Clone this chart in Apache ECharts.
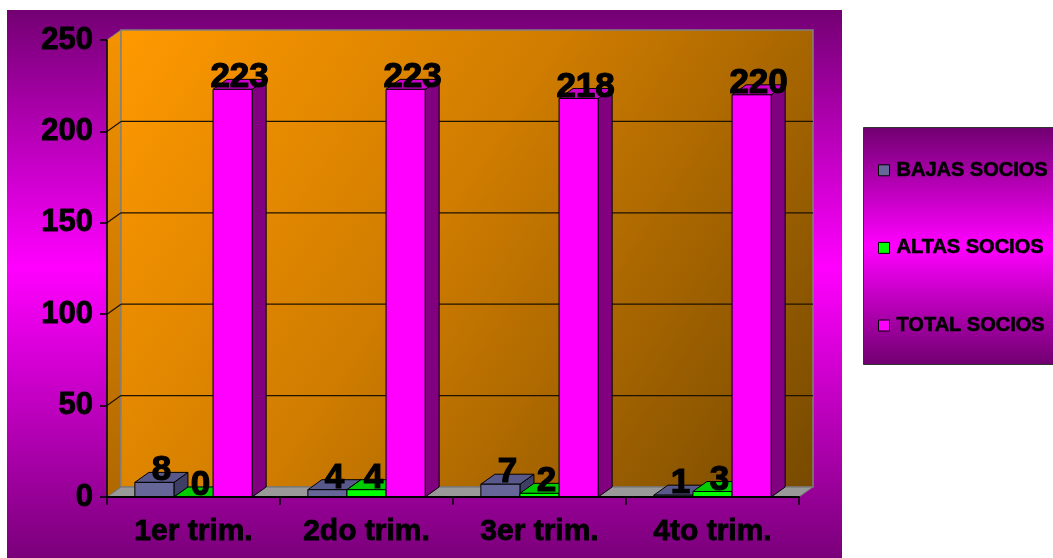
<!DOCTYPE html>
<html>
<head>
<meta charset="utf-8">
<script src="https://cdn.jsdelivr.net/npm/echarts@6/dist/echarts.min.js"></script>
<style>html,body{margin:0;padding:0;background:#fff;}#c{width:1053px;height:558px;}</style>
</head>
<body>
<div id="c"></div>
<script>
var categories = ['1er trim.', '2do trim.', '3er trim.', '4to trim.'];
var bajas = [8, 4, 7, 1];
var altas = [0, 4, 2, 3];
var total = [223, 223, 218, 220];
var seriesNames = ['BAJAS SOCIOS', 'ALTAS SOCIOS', 'TOTAL SOCIOS'];
var yTicks = [0, 50, 100, 150, 200, 250];

var FONT = '"Liberation Sans", Arial, sans-serif';
var DX = 14, DY = -10;
var BAR_FRAC = 0.226;
var faces = [
  {front: '#666699', top: '#58588a', side: '#3e3e66'},
  {front: '#00ff00', top: '#00cc00', side: '#009a00'},
  {front: '#ff00ff', top: '#cc00cc', side: '#800080'}
];

var chart = echarts.init(document.getElementById('c'), null, {renderer: 'canvas'});

function barRender(si) {
  return function (params, api) {
    var c = api.coord([api.value(0), api.value(1)]);
    var b = api.coord([api.value(0), 0]);
    var band = api.size([1, 0])[0];
    var w = band * BAR_FRAC;
    var x0 = c[0] + (si - 1) * w - w / 2;
    var x1 = x0 + w;
    var yt = c[1], yb = b[1];
    var f = faces[si];
    var st = {stroke: '#000', lineWidth: 1, lineJoin: 'round'};
    var fs = 35;
    return {
      type: 'group',
      children: [
        {type: 'polygon', shape: {points: [[x1, yb], [x1 + DX, yb + DY], [x1 + DX, yt + DY], [x1, yt]]},
          style: Object.assign({fill: f.side}, st)},
        {type: 'polygon', shape: {points: [[x0, yt], [x0 + DX, yt + DY], [x1 + DX, yt + DY], [x1, yt]]},
          style: Object.assign({fill: f.top}, st)},
        {type: 'rect', shape: {x: x0, y: yt, width: w, height: yb - yt},
          style: Object.assign({fill: f.front}, st)},
        {type: 'text', z2: 100,
          style: {x: x0 + w / 2 + DX / 2, y: yt - fs * 0.36 + 1, text: String(api.value(1)),
            fill: '#000', stroke: '#000', lineWidth: 1.2,
            font: 'bold ' + fs + 'px ' + FONT, align: 'center', verticalAlign: 'middle'}}
      ]
    };
  };
}

function wallRender(params, api) {
  var cs = params.coordSys;
  var x = cs.x, y = cs.y, w = cs.width, h = cs.height;
  var yb = y + h;
  var children = [];
  children.push({type: 'polygon', shape: {points: [[x, y], [x + DX, y + DY], [x + DX, yb + DY], [x, yb]]},
    style: {fill: new echarts.graphic.LinearGradient(0, 0, 0, 1, [{offset: 0, color: '#f59300'}, {offset: 1, color: '#b06800'}]),
      stroke: '#808080', lineWidth: 1}});
  children.push({type: 'rect', shape: {x: x + DX, y: y + DY, width: w, height: h},
    style: {fill: new echarts.graphic.LinearGradient(0, 0, 1, 1, [{offset: 0, color: '#ff9900'}, {offset: 0.45, color: '#cf7c00'}, {offset: 1, color: '#774a00'}]),
      stroke: '#808080', lineWidth: 1.5}});
  children.push({type: 'polygon', shape: {points: [[x, yb], [x + DX, yb + DY], [x + w + DX, yb + DY], [x + w, yb]]},
    style: {fill: '#999999', stroke: '#707070', lineWidth: 1}});
  for (var i = 0; i < yTicks.length; i++) {
    var v = yTicks[i];
    if (v === 0 || v === yTicks[yTicks.length - 1]) continue;
    var yy = api.coord([0, v])[1];
    children.push({type: 'line', shape: {x1: x + DX, y1: yy + DY, x2: x + w + DX, y2: yy + DY},
      style: {stroke: '#1e1200', lineWidth: 1.2}});
    children.push({type: 'line', shape: {x1: x, y1: yy, x2: x + DX, y2: yy + DY},
      style: {stroke: '#1e1200', lineWidth: 1.2}});
  }
  return {type: 'group', children: children};
}

var bgGrad = new echarts.graphic.LinearGradient(0, 0, 0, 1, [
  {offset: 0, color: '#730073'}, {offset: 0.47, color: '#ff00ff'}, {offset: 1, color: '#7a007a'}]);
var lgGrad = new echarts.graphic.LinearGradient(0, 0, 0, 1, [
  {offset: 0, color: '#700070'}, {offset: 0.5, color: '#ff00ff'}, {offset: 1, color: '#700070'}]);

var series = [{
  type: 'custom', name: 'walls', z: 1, silent: true,
  renderItem: wallRender, data: [[0, 0]], encode: {x: 0, y: 1}
}];
[bajas, altas, total].forEach(function (arr, si) {
  series.push({
    type: 'custom', name: seriesNames[si], z: 2,
    renderItem: barRender(si),
    itemStyle: {color: faces[si].front, borderColor: '#000', borderWidth: 1},
    encode: {x: 0, y: 1},
    data: arr.map(function (v, i) { return [i, v]; })
  });
});

chart.setOption({
  animation: false,
  backgroundColor: '#ffffff',
  graphic: [
    {type: 'rect', z: -10, shape: {x: 7, y: 10, width: 835, height: 548}, style: {fill: bgGrad}},
    {type: 'rect', z: -10, shape: {x: 863.5, y: 127.5, width: 200, height: 237}, style: {fill: lgGrad, stroke: '#333', lineWidth: 1}}
  ],
  grid: {left: 107, right: 254, top: 40, bottom: 61, containLabel: false},
  xAxis: {
    type: 'category', data: categories, z: 3,
    axisLine: {show: true, lineStyle: {color: '#000', width: 2}},
    axisTick: {show: true, length: 8, alignWithLabel: false, lineStyle: {color: '#000', width: 1.5}},
    axisLabel: {color: '#000', fontWeight: 'bold', fontSize: 30, fontFamily: FONT, margin: 20,
      textBorderColor: '#000', textBorderWidth: 0.9},
    splitLine: {show: false}
  },
  yAxis: {
    type: 'value', min: 0, max: 250, interval: 50, z: 3,
    axisLine: {show: true, lineStyle: {color: '#000', width: 1.5}},
    axisTick: {show: true, length: 7, lineStyle: {color: '#000', width: 1.5}},
    axisLabel: {color: '#000', fontWeight: 'bold', fontSize: 31, fontFamily: FONT, margin: 14,
      textBorderColor: '#000', textBorderWidth: 0.9},
    splitLine: {show: false}
  },
  legend: {
    orient: 'vertical', left: 878, top: 160, itemGap: 57, padding: 0,
    itemWidth: 11, itemHeight: 11, icon: 'rect', selectedMode: false,
    textStyle: {color: '#000', fontWeight: 'bold', fontSize: 20, fontFamily: FONT, lineHeight: 20,
      padding: [0, 0, 0, 2], textBorderColor: '#000', textBorderWidth: 0.6},
    data: seriesNames.map(function (n, i) {
      return {name: n, icon: 'rect', itemStyle: {color: faces[i].front, borderColor: '#000', borderWidth: 1}};
    })
  },
  series: series
});
</script>
</body>
</html>
